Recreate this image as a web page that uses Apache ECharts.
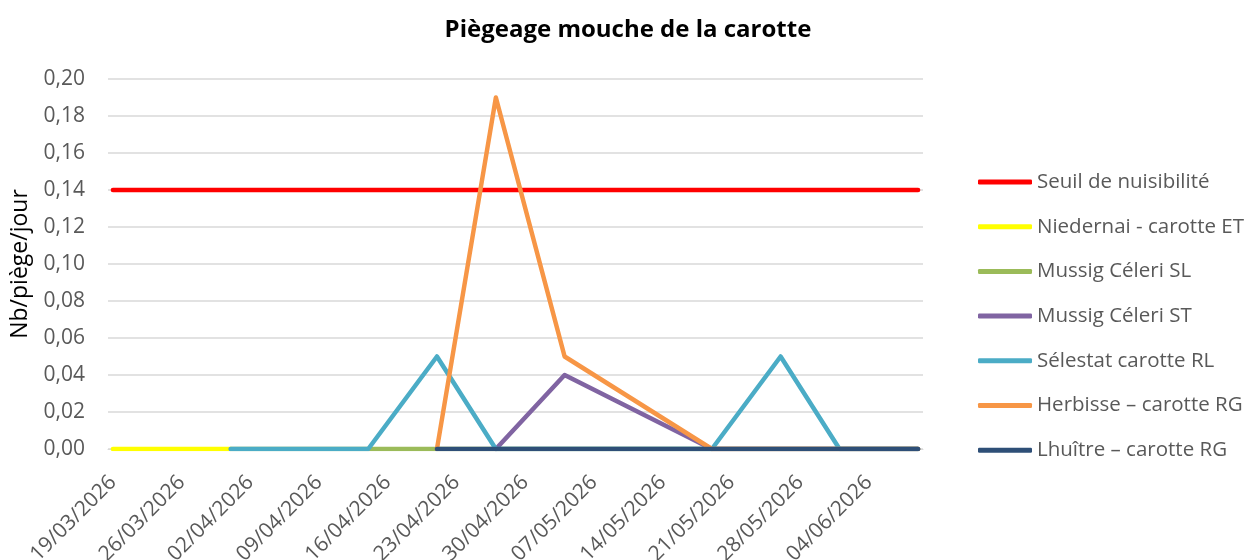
<!DOCTYPE html>
<html>
<head>
<meta charset="utf-8">
<script src="https://cdn.jsdelivr.net/npm/echarts@6/dist/echarts.min.js"></script>
<style>
  html, body { margin: 0; padding: 0; background: #fff; }
  #chart { width: 1251px; height: 560px; }
</style>
</head>
<body>
<div id="chart"></div>
<script>
// dates de relevé (jj/mm/aaaa)
var sampleDates = ['19/03/2026', '31/03/2026', '14/04/2026', '21/04/2026', '27/04/2026',
                   '04/05/2026', '19/05/2026', '26/05/2026', '01/06/2026', '09/06/2026'];
// valeurs Nb/piège/jour (null = pas de relevé)
var seuil     = [0.14, 0.14, 0.14, 0.14, 0.14, 0.14, 0.14, 0.14, 0.14, 0.14];
var niedernai = [0, 0, null, null, null, null, null, null, null, null];
var mussigSL  = [null, 0, 0, 0, 0, 0, 0, 0, 0, 0];
var mussigST  = [null, null, null, null, 0, 0.04, 0, 0, 0, 0];
var selestat  = [null, 0, 0, 0.05, 0, 0, 0, 0.05, 0, 0];
var herbisse  = [null, null, null, 0, 0.19, 0.05, 0, 0, 0, 0];
var lhuitre   = [null, null, null, 0, 0, 0, 0, 0, 0, 0];

var seriesNames = ['Seuil de nuisibilité', 'Niedernai - carotte ET', 'Mussig Céleri SL',
                   'Mussig Céleri ST', 'Sélestat carotte RL', 'Herbisse – carotte RG', 'Lhuître – carotte RG'];
var seriesValues = [seuil, niedernai, mussigSL, mussigST, selestat, herbisse, lhuitre];
var colors = ['#FF0000', '#FFFF00', '#9BBB59', '#8064A2', '#4BACC6', '#F79646', '#2E4F77'];

// axe des dates : un jour par catégorie
function fmt(d) {
    var dd = ('0' + d.getDate()).slice(-2);
    var mm = ('0' + (d.getMonth() + 1)).slice(-2);
    return dd + '/' + mm + '/' + d.getFullYear();
}
var days = [];
var d = new Date(2026, 2, 19);
var end = new Date(2026, 5, 9);
while (d <= end) {
    days.push(fmt(d));
    d.setDate(d.getDate() + 1);
}

var series = seriesValues.map(function (vals, i) {
    var pts = [];
    vals.forEach(function (v, j) {
        if (v !== null) pts.push([sampleDates[j], v]);
    });
    return {
        name: seriesNames[i],
        type: 'line',
        data: pts,
        symbol: 'none',
        color: colors[i],
        lineStyle: { width: 4.5, color: colors[i], cap: 'round', join: 'round' }
    };
});

var font = '"Open Sans", Lato, sans-serif';
var myChart = echarts.init(document.getElementById('chart'));
myChart.setOption({
    animation: false,
    textStyle: { fontFamily: font },
    title: {
        text: 'Piègeage mouche de la carotte',
        left: 623,
        textAlign: 'center',
        top: 13,
        textStyle: { fontFamily: font, fontSize: 24, fontWeight: 'bold', color: '#000' }
    },
    legend: {
        orient: 'vertical',
        left: 978,
        top: 171,
        padding: 0,
        icon: 'roundRect',
        itemWidth: 54,
        itemHeight: 5,
        itemGap: 22.7,
        textStyle: { fontFamily: font, fontSize: 20.5, color: '#595959', lineHeight: 22 },
        data: seriesNames
    },
    grid: { left: 108, right: 328, top: 79, bottom: 111, outerBoundsMode: 'none', containLabel: false },
    xAxis: {
        type: 'category',
        data: days,
        boundaryGap: true,
        axisLine: { lineStyle: { color: '#d9d9d9' } },
        axisTick: { show: false },
        axisLabel: {
            interval: 6,
            rotate: 45,
            fontSize: 21,
            color: '#595959',
            margin: 30
        },
        splitLine: { show: false }
    },
    yAxis: {
        type: 'value',
        min: 0,
        max: 0.2,
        interval: 0.02,
        name: 'Nb/piège/jour',
        nameLocation: 'middle',
        nameGap: 76,
        nameTextStyle: { fontSize: 23, color: '#000' },
        axisLine: { show: false },
        axisTick: { show: false },
        axisLabel: {
            fontSize: 21,
            color: '#595959',
            margin: 23,
            formatter: function (v) { return v.toFixed(2).replace('.', ','); }
        },
        splitLine: { lineStyle: { color: '#d9d9d9', width: 1.5 } }
    },
    series: series
});
</script>
</body>
</html>
